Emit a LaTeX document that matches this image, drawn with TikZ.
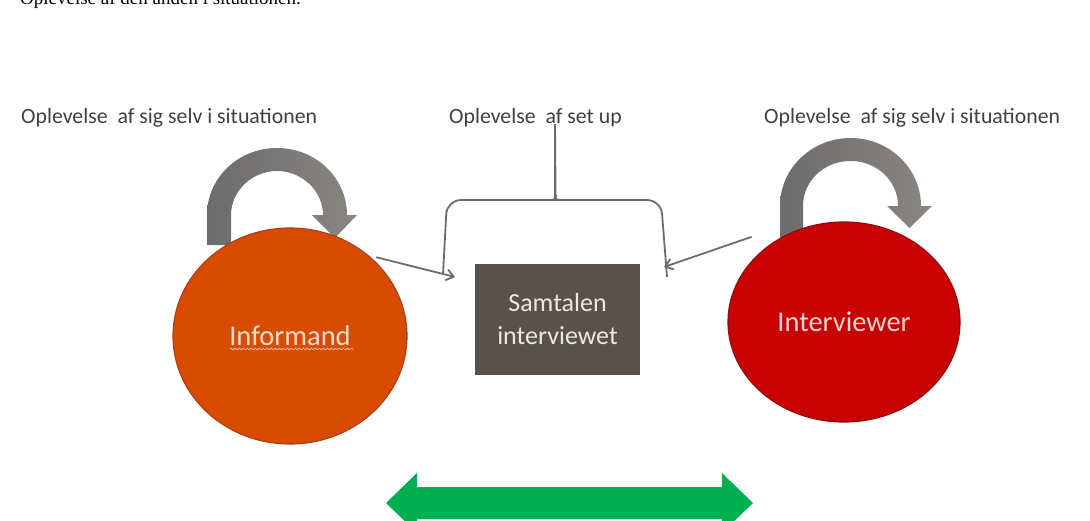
\documentclass[tikz,border=0pt]{standalone}
\usepackage{fontspec}
\setmainfont{Liberation Serif}
\newfontfamily\calfont{Carlito}
\usetikzlibrary{shapes.geometric,arrows.meta,decorations.pathmorphing,calc}
\definecolor{orangeC}{RGB}{216,76,2}
\definecolor{orangeD}{RGB}{175,62,18}
\definecolor{redC}{RGB}{200,2,2}
\definecolor{redD}{RGB}{150,10,10}
\definecolor{boxC}{RGB}{89,82,76}
\definecolor{greenC}{RGB}{0,176,80}
\definecolor{lblC}{RGB}{64,64,64}
\definecolor{connC}{RGB}{108,108,108}
\definecolor{arcL}{RGB}{108,108,108}
\definecolor{arcM}{RGB}{196,192,188}
\definecolor{arcR}{RGB}{138,133,128}
\tikzset{
  lbl/.style={anchor=west, inner sep=0pt, text=lblC, font=\calfont\fontsize{21.8}{25}\selectfont},
  person/.style={ellipse, inner sep=0pt, line width=1.2pt, font=\calfont\fontsize{28.5}{32}\selectfont},
  conn/.style={draw=connC, line width=1.8pt, -{Straight Barb[length=7pt,width=11pt]}},
  brace/.style={draw=connC, line width=1.8pt, rounded corners=14pt},
  loop/.style={left color=arcL, middle color=arcM, right color=arcR, shading angle=90},
}
\begin{document}
\begin{tikzpicture}[x=1pt,y=-1pt]
\useasboundingbox (0,0) rectangle (1090,520);
\clip (0,0) rectangle (1090,520);

% top text (cut off at the top edge, as in the reference)
\node[anchor=base west, inner sep=0pt, font=\fontsize{19}{23}\selectfont] (top) at (20,4.5) {Oplevelse af den anden i situationen.};

% labels
\node[lbl] (lblL) at (21,118) {Oplevelse\ \ af sig selv i situationen};
\node[lbl] (lblM) at (449,118) {Oplevelse\ \ af set up};
\node[lbl] (lblR) at (764,118) {Oplevelse\ \ af sig selv i situationen};

% left loop arrow
\shade[loop] (207,245) -- (207,215) .. controls (207,178) and (238,148) .. (277,148)
  .. controls (316,148) and (347,178) .. (347,215) -- (357,215) -- (335,238) -- (312,215) -- (323,215)
  .. controls (323,191) and (302,171) .. (277,171) .. controls (252,171) and (231,191) .. (231,215)
  -- (231,245) -- cycle;

% right loop arrow
\shade[loop] (780,238) -- (780,206) .. controls (780,168) and (812,138) .. (850.5,138)
  .. controls (889,138) and (921,168) .. (921,206) -- (932,206) -- (909.5,228) -- (887,206) -- (898,206)
  .. controls (898,181) and (877,161) .. (850.5,161) .. controls (824,161) and (803,181) .. (803,206)
  -- (803,238) -- cycle;

% persons
\node[person, fill=orangeC, draw=orangeD, minimum width=234pt, minimum height=216pt, text={rgb,255:red,250;green,222;blue,208}] (inf) at (290,336) {Informand};
\draw[decorate, decoration={snake, amplitude=0.8pt, segment length=4pt}, draw={rgb,255:red,250;green,175;blue,150}, line width=0.9pt] (230,349) -- (353,349);
\node[person, fill=redC, draw=redD, minimum width=232pt, minimum height=200pt, text={rgb,255:red,246;green,210;blue,210}] (intv) at (844,322) {Interviewer};

% central box
\node[rectangle, fill=boxC, minimum width=165pt, minimum height=111pt, inner sep=0pt, align=center,
  text={rgb,255:red,236;green,233;blue,229}, font=\calfont\fontsize{26}{33}\selectfont] (box) at (557.5,319.5) {Samtalen\\interviewet};

% brace
\coordinate (tip) at (555,124);
\coordinate (bL) at (443,274);
\coordinate (bR) at (667,277);
\draw[brace] (bL) -- (447,200) -- (548,200) .. controls (553,200) and (555,196) .. (555,186) -- (tip);
\draw[brace] (tip) -- (555.5,186) .. controls (555.5,196) and (558,200) .. (563,200) -- (661,200) -- (bR);

% connectors
\coordinate (aL) at (455,277);
\coordinate (aR) at (664,267);
\draw[conn] ([shift={(3,-2)}]inf.north east) -- (aL);
\draw[conn] ([shift={(-10,-14)}]intv.north west) -- (aR);

% green double arrow
\fill[greenC] (386,503) -- (417,473) -- (417,487) -- (722,487) -- (722,473) -- (753,503)
  -- (722,533) -- (722,519) -- (417,519) -- (417,533) -- cycle;
\end{tikzpicture}
\end{document}
